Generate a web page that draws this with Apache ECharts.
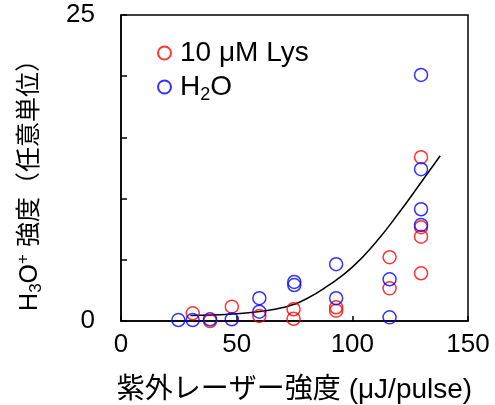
<!DOCTYPE html>
<html><head><meta charset="utf-8">
<script src="https://cdn.jsdelivr.net/npm/echarts@6/dist/echarts.min.js"></script>
<style>html,body{margin:0;padding:0;background:#fff}#c{width:495px;height:405px}</style>
</head><body><div id="c"></div>
<script>
const xTicks = [0, 50, 100, 150];
const yTickLabels = ['0', '25'];
const lysX = [31.0, 38.5, 47.9, 59.8, 74.6, 74.6, 93.0, 93.0, 116.1, 116.1, 129.7, 129.7, 129.7, 129.7];
const lysY = [0.63, 0.0, 1.17, 0.41, 0.96, 0.18, 1.12, 0.84, 5.21, 2.67, 13.38, 7.66, 6.89, 3.90];
const h2oX = [24.8, 31.0, 38.5, 47.9, 59.8, 59.8, 74.9, 74.9, 93.0, 93.0, 116.1, 116.1, 129.7, 129.7, 129.7, 129.7];
const h2oY = [0.08, 0.08, 0.14, 0.14, 1.86, 0.76, 3.19, 2.94, 4.64, 1.86, 3.41, 0.30, 20.1, 12.4, 9.13, 7.85];
const fitX = [30, 40, 50, 60, 70, 80, 90, 100, 110, 120, 130, 138];
const fitY = [0.45, 0.49, 0.6, 0.78, 1.1, 1.8, 2.95, 4.4, 6.4, 8.8, 11.4, 13.5];
const seriesNames = ['10 μM Lys', 'H2O'];

const FONT = "'Liberation Sans', Arial, 'Noto Sans CJK JP', sans-serif";
const zip = (a, b) => a.map((v, i) => [v, b[i]]);
const chart = echarts.init(document.getElementById('c'), null, {renderer: 'canvas'});
chart.setOption({
  animation: false,
  backgroundColor: '#fff',
  textStyle: {fontFamily: FONT, color: '#000'},
  grid: {left: 121, right: 27, top: 15, bottom: 84, show: true, borderColor: '#000', borderWidth: 1.5,
    containLabel: false, outerBoundsMode: 'none'},
  legend: {
    data: seriesNames,
    orient: 'vertical', left: 152, top: 34, itemGap: 6,
    itemWidth: 13, itemHeight: 13,
    textStyle: {fontFamily: FONT, fontSize: 28, color: '#000', padding: [0, 0, 0, 4],
      rich: {a: {fontSize: 28, fontFamily: FONT}, sub: {fontSize: 18, fontFamily: FONT, verticalAlign: 'bottom', padding: [16, 0, 0, 0]}}},
    formatter: n => n === 'H2O' ? '{a|H}{sub|2}{a|O}' : '{a|' + n + '}'
  },
  xAxis: {
    type: 'value', min: 0, max: 150, interval: 50,
    axisLine: {show: true, lineStyle: {color: '#000', width: 1.5}},
    axisTick: {show: true, inside: true, length: 5, lineStyle: {color: '#000', width: 1.5}},
    splitLine: {show: false},
    axisLabel: {fontSize: 26, color: '#000', fontFamily: FONT, margin: 11,
      formatter: v => xTicks.includes(v) ? String(v) : ''},
    name: '紫外レーザー強度 (μJ/pulse)', nameLocation: 'middle', nameGap: 55,
    nameTextStyle: {fontSize: 28, color: '#000', fontFamily: FONT}
  },
  yAxis: {
    type: 'value', min: 0, max: 25, interval: 5,
    axisLine: {show: true, lineStyle: {color: '#000', width: 1.5}},
    axisTick: {show: true, inside: true, length: 6, lineStyle: {color: '#000', width: 1.5}},
    splitLine: {show: false},
    axisLabel: {fontSize: 26, color: '#000', fontFamily: FONT, margin: 26, padding: [9, 0, 0, 0],
      formatter: v => yTickLabels.includes(String(v)) ? String(v) : ''},
    name: '{a|H}{sub|3}{a|O}{sup|+}{a| 強度（任意単位）}', nameLocation: 'middle', nameGap: 76, nameRotate: 90,
    nameTextStyle: {fontSize: 25, color: '#000', fontFamily: FONT, padding: [0, 22, 0, 0],
      rich: {a: {fontSize: 25, fontFamily: FONT}, sub: {fontSize: 17, fontFamily: FONT, verticalAlign: 'bottom', padding: [13, 0, 0, 0]}, sup: {fontSize: 17, fontFamily: FONT, verticalAlign: 'top', padding: [0, 0, 11, 0]}}}
  },
  series: [
    {name: 'fit', type: 'line', data: zip(fitX, fitY), smooth: true, showSymbol: false, symbol: 'none',
      lineStyle: {color: '#000', width: 1.5}, z: 1},
    {name: seriesNames[0], type: 'scatter', data: zip(lysX, lysY), symbol: 'circle', symbolSize: 13, clip: false,
      itemStyle: {color: 'rgba(0,0,0,0)', borderColor: '#ff0000', borderWidth: 1.5}, z: 2},
    {name: seriesNames[1], type: 'scatter', data: zip(h2oX, h2oY), symbol: 'circle', symbolSize: 13, clip: false,
      itemStyle: {color: 'rgba(0,0,0,0)', borderColor: '#0000ff', borderWidth: 1.5}, z: 3}
  ]
});
</script></body></html>
